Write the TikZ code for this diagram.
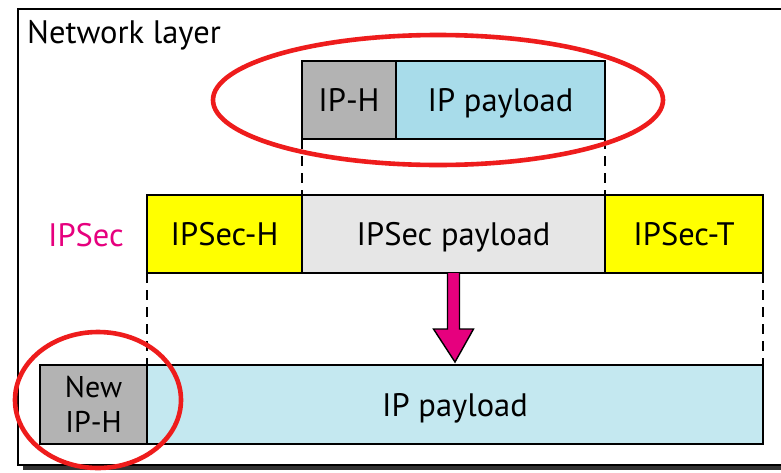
\documentclass[tikz,border=0pt]{standalone}
\usepackage{fontspec}
\setmainfont{PT Sans}
\usetikzlibrary{calc}
\definecolor{hgray}{HTML}{B3B3B3}
\definecolor{paytop}{HTML}{A8DCEA}
\definecolor{paybot}{HTML}{C4E8F0}
\definecolor{ipsecgray}{HTML}{E6E6E6}
\definecolor{yel}{HTML}{FFFF00}
\definecolor{mag}{HTML}{E6007E}
\definecolor{ered}{HTML}{EE1C1C}
\tikzset{
  field/.style={draw=black, line width=1.6pt, inner sep=0pt, outer sep=0pt, anchor=north west,
    font=\fontsize{32.5}{35}\selectfont, align=center, text depth=0pt, yshift=0pt},
  guide/.style={line width=1.2pt, dash pattern=on 10pt off 7pt},
  ring/.style={draw=ered, line width=4.6pt},
}
\begin{document}
\begin{tikzpicture}[x=1pt, y=-1pt]
\useasboundingbox (0,0) rectangle (781,472);
% frame
\fill[black!80] (23,465) rectangle (790,470);
\draw[line width=2pt, fill=white] (18,9) rectangle (790,465);
\node[anchor=base west, font=\fontsize{32.5}{35}\selectfont, inner sep=0pt] (title) at (27,43) {Network layer};
% top row
\node[field, fill=hgray, minimum width=94pt, minimum height=78pt] (iph) at (302,61) {IP-H};
\node[field, fill=paytop, minimum width=209pt, minimum height=78pt] (ippay) at (396,61) {IP payload};
% middle row
\node[field, fill=yel, minimum width=155pt, minimum height=78pt] (ipsech) at (147,195) {IPSec-H};
\node[field, fill=ipsecgray, minimum width=303pt, minimum height=78pt] (ipsecpay) at (302,195) {IPSec payload};
\node[field, fill=yel, minimum width=158pt, minimum height=78pt] (ipsect) at (605,195) {IPSec-T};
\node[anchor=east, text=mag, font=\fontsize{32.5}{35}\selectfont, inner sep=0pt] (ipseclbl) at (124,235) {IPSec};
% bottom row
\node[field, fill=hgray, minimum width=107pt, minimum height=79pt, font=\fontsize{30}{35}\selectfont] (newh) at (40,365) {New\\IP-H};
\node[field, fill=paybot, minimum width=616pt, minimum height=79pt] (newpay) at (147,365) {IP payload};
% dashed guides
\draw[guide] (iph.south west) -- (ipsecpay.north west);
\draw[guide] (ippay.south east) -- (ipsecpay.north east);
\draw[guide] (ipsech.south west) -- (newpay.north west);
\draw[guide] (ipsect.south east) -- (newpay.north east);
% arrow
\draw[fill=mag, line width=1.4pt, line join=miter]
  ($(ipsecpay.south)+(-6,0)$) -- ($(ipsecpay.south)+(-6,56)$) -- ($(ipsecpay.south)+(-20,56)$)
  -- ($(newpay.north)+(0,-3)$) -- ($(ipsecpay.south)+(20,56)$) -- ($(ipsecpay.south)+(6,56)$)
  -- ($(ipsecpay.south)+(6,0)$);
% red ellipses
\draw[ring] (438,100) ellipse [x radius=225pt, y radius=65pt];
\draw[ring] (98,400) ellipse [x radius=83pt, y radius=68pt];
\end{tikzpicture}
\end{document}
